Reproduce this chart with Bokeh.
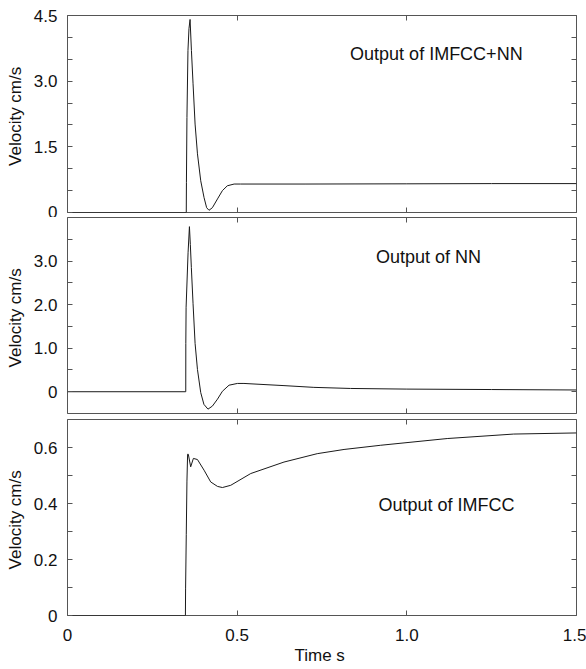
from bokeh.plotting import figure
from bokeh.models import LinearAxis, FixedTicker, Range1d, Label
from bokeh.layouts import column
from bokeh.embed import file_html
from bokeh.resources import INLINE

# ---- data ----
t_combo = [0.0, 0.350, 0.3505, 0.352, 0.355, 0.358, 0.3612, 0.3652, 0.370, 0.376, 0.383,
           0.3926, 0.4024, 0.410, 0.417, 0.427, 0.442, 0.4565, 0.471, 0.491, 0.510,
           0.700, 1.000, 1.250, 1.500]
v_combo = [0.0, 0.0, 0.69, 2.17, 3.70, 4.20, 4.41, 3.70, 2.94, 2.02, 1.34,
           0.725, 0.34, 0.11, 0.05, 0.11, 0.31, 0.50, 0.61, 0.65, 0.65,
           0.65, 0.655, 0.66, 0.66]

t_nn = [0.0, 0.3485, 0.3487, 0.3495, 0.3553, 0.3593, 0.362, 0.365, 0.370, 0.376, 0.383,
        0.3926, 0.402, 0.414, 0.427, 0.442, 0.4565, 0.476, 0.5007, 0.520, 0.638,
        0.726, 0.834, 1.000, 1.250, 1.500]
v_nn = [0.0, 0.0, 1.11, 1.94, 3.19, 3.79, 3.38, 2.85, 2.02, 1.11, 0.51,
        -0.02, -0.29, -0.40, -0.33, -0.17, 0.01, 0.15, 0.19, 0.19, 0.14,
        0.10, 0.075, 0.06, 0.05, 0.04]

t_imfcc = [0.0, 0.3475, 0.348, 0.350, 0.352, 0.354, 0.356, 0.363, 0.371, 0.383,
           0.4024, 0.422, 0.442, 0.4565, 0.481, 0.540, 0.638, 0.736, 0.815, 0.923,
           1.119, 1.315, 1.500]
v_imfcc = [0.0, 0.0, 0.095, 0.29, 0.48, 0.576, 0.576, 0.531, 0.561, 0.557,
           0.519, 0.477, 0.461, 0.457, 0.465, 0.507, 0.548, 0.578, 0.593, 0.608,
           0.632, 0.648, 0.652]

x_ticks = [0, 0.5, 1.0, 1.5]
x_labels = ["0", "0.5", "1.0", "1.5"]

y1_ticks = [0, 1.5, 3.0, 4.5]
y1_labels = ["0", "1.5", "3.0", "4.5"]
y1_minor = [0.5, 1.0, 2.0, 2.5, 3.5, 4.0]

y2_ticks = [0, 1.0, 2.0, 3.0]
y2_labels = ["0", "1.0", "2.0", "3.0"]
y2_minor = [0.5, 1.5, 2.5, 3.5]

y3_ticks = [0, 0.2, 0.4, 0.6]
y3_labels = ["0", "0.2", "0.4", "0.6"]
y3_minor = [0.1, 0.3, 0.5]

titles = ["Output of IMFCC+NN", "Output of NN", "Output of IMFCC"]

FONT = "Liberation Sans"
FRAME = "#555555"
LINE = "#1a1a1a"


def style_axis(ax, ticks, minor, labels=None):
    ax.ticker = FixedTicker(ticks=ticks, minor_ticks=minor)
    ax.major_tick_in = 5
    ax.major_tick_out = 0
    ax.minor_tick_in = 5
    ax.minor_tick_out = 0
    ax.major_tick_line_color = FRAME
    ax.minor_tick_line_color = FRAME
    ax.axis_line_color = None
    if labels is None:
        ax.major_label_text_font_size = "0px"
        ax.major_label_standoff = 0
        ax.axis_label = None
    else:
        ax.major_label_overrides = {tk: lb for tk, lb in zip(ticks, labels)}
        ax.major_label_text_font = FONT
        ax.major_label_text_font_size = "17px"
        ax.major_label_text_color = "#111111"
        ax.axis_label_text_font = FONT
        ax.axis_label_text_font_size = "17px"
        ax.axis_label_text_font_style = "normal"
        ax.axis_label_text_color = "#111111"


def make_panel(t, v, ylo, yhi, yt, yl, ym, title, tx, ty, top, bottom, h, show_x):
    p = figure(width=586, height=h,
               x_range=Range1d(0, 1.5), y_range=Range1d(ylo, yhi),
               output_backend="svg", toolbar_location=None,
               min_border_left=67, min_border_right=10,
               min_border_top=top, min_border_bottom=bottom)
    p.grid.visible = False
    p.outline_line_color = FRAME
    p.outline_line_width = 1
    p.background_fill_color = "white"
    p.line(t, v, line_color=LINE, line_width=1)

    # left axis
    style_axis(p.yaxis[0], yt, ym, yl)
    p.yaxis[0].axis_label = "Velocity  cm/s"
    p.yaxis[0].major_label_standoff = 10
    p.yaxis[0].axis_label_standoff = 6

    # bottom axis
    if show_x:
        style_axis(p.xaxis[0], x_ticks, [], x_labels)
        p.xaxis[0].axis_label = "Time  s"
        p.xaxis[0].major_label_standoff = 13
        p.xaxis[0].axis_label_standoff = 2
    else:
        style_axis(p.xaxis[0], x_ticks, [])

    # mirrored axes
    ra = LinearAxis()
    style_axis(ra, yt, ym)
    p.add_layout(ra, "right")
    ta = LinearAxis()
    style_axis(ta, x_ticks, [])
    p.add_layout(ta, "above")

    p.add_layout(Label(x=tx, y=ty, text=title, text_align="center",
                       text_baseline="middle", text_font=FONT,
                       text_font_size="18px", text_color="#111111"))
    return p


p1 = make_panel(t_combo, v_combo, 0, 4.5, y1_ticks, y1_labels, y1_minor,
                titles[0], 1.087, 3.61, 15, 5, 217, False)
p2 = make_panel(t_nn, v_nn, -0.5, 4.0, y2_ticks, y2_labels, y2_minor,
                titles[1], 1.064, 3.09, 0, 3, 199, False)
p3 = make_panel(t_imfcc, v_imfcc, 0, 0.7, y3_ticks, y3_labels, y3_minor,
                titles[2], 1.117, 0.394, 3, 54, 253, True)

layout = column(p1, p2, p3, spacing=0)
open("out.html", "w").write(file_html(layout, INLINE))
